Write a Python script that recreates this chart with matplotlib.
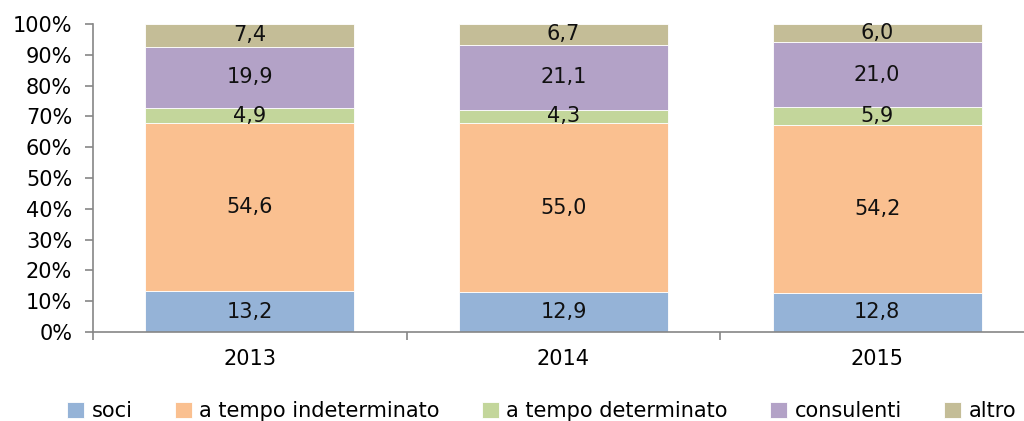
import numpy as np
import matplotlib.pyplot as plt

anni = ['2013', '2014', '2015']
soci = [13.2, 12.9, 12.8]
indeterminato = [54.6, 55.0, 54.2]
determinato = [4.9, 4.3, 5.9]
consulenti = [19.9, 21.1, 21.0]
altro = [7.4, 6.7, 6.0]

serie = [soci, indeterminato, determinato, consulenti, altro]
nomi = ['soci', 'a tempo indeterminato', 'a tempo determinato', 'consulenti', 'altro']
colori = ['#95B3D7', '#FAC090', '#C3D69B', '#B3A2C7', '#C4BD97']

plt.rcParams['font.family'] = ['DejaVu Sans']
fs = 15
fig = plt.figure(figsize=(10.24, 4.21), dpi=100)
ax = fig.add_axes([93/1024, 1-332/421, 941/1024, 308/421])

x = np.arange(len(anni))
tot = np.sum(serie, axis=0)
base = np.zeros(len(anni))
for vals, nome, col in zip(serie, nomi, colori):
    h = np.array(vals) / tot * 100
    ax.bar(x, h, 0.667, bottom=base, color=col, label=nome, edgecolor='white', linewidth=0.6)
    for xi, b, hi, v in zip(x, base, h, vals):
        ax.text(xi, b + hi/2, ('%.1f' % v).replace('.', ','), ha='center', va='center', fontsize=fs, color='#111111')
    base += h

ax.set_xlim(-0.5, 2.5)
ax.set_ylim(0, 100)
ax.set_yticks(np.arange(0, 101, 10))
ax.set_yticklabels(['%d%%' % v for v in range(0, 101, 10)], fontsize=fs)
ax.set_xticks(x)
ax.set_xticklabels(anni, fontsize=fs)
ax.set_xticks([-0.5, 0.5, 1.5, 2.5], minor=True)
ax.tick_params(axis='x', which='major', length=0, pad=12)
ax.tick_params(axis='x', which='minor', length=6, color='#868686', width=1.2)
ax.tick_params(axis='y', length=6, color='#868686', width=1.2, pad=9)
for s in ['top', 'right']:
    ax.spines[s].set_visible(False)
for s in ['left', 'bottom']:
    ax.spines[s].set_color('#868686')
    ax.spines[s].set_linewidth(1.2)

fig.legend(loc='lower center', bbox_to_anchor=(0.529, -0.045), ncol=5, frameon=False, fontsize=fs,
           handlelength=0.8, handleheight=0.8, handletextpad=0.35, columnspacing=2.05)
fig.savefig('out.png', dpi=100)
